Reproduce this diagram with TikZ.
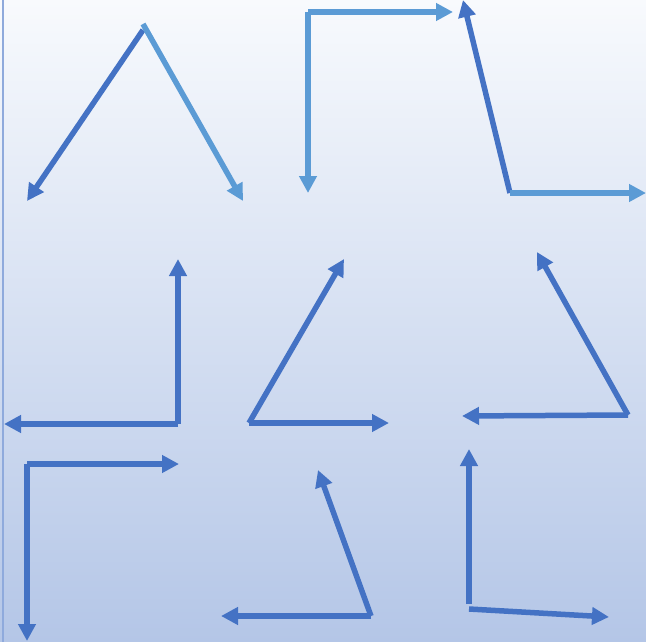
\documentclass[tikz,border=0pt]{standalone}
\usetikzlibrary{arrows.meta}
\definecolor{darkb}{HTML}{4472C4}
\definecolor{lightb}{HTML}{5B9BD5}
\definecolor{bgtop}{HTML}{F8FAFD}
\definecolor{bgbot}{HTML}{B4C6E7}
\definecolor{edgeb}{HTML}{8FAADC}
\tikzset{
  vec/.style={line width=5.5pt, -{Triangle[length=17pt,width=17pt]}},
  vdark/.style={vec, draw=darkb, fill=darkb},
  vlight/.style={vec, draw=lightb, fill=lightb},
}
\begin{document}
\begin{tikzpicture}[x=1pt,y=-1pt]
\useasboundingbox (0,0) rectangle (646,642);
\shade[top color=bgtop, bottom color=bgbot] (0,0) rectangle (646,642);
\draw[edgeb, line width=2.5pt] (3,0) -- (3,642);
% group 1
\coordinate (v1) at (143,30);
\coordinate (v1b) at (143,24);
\coordinate (t1a) at (27,201);
\coordinate (t1b) at (243,201);
\draw[vdark] (v1) -- (t1a);
\draw[vlight] (v1b) -- (t1b);
% group 2
\coordinate (v2) at (308,12);
\coordinate (t2a) at (453,12);
\coordinate (t2b) at (308,193);
\draw[vlight] (v2) -- (t2a);
\draw[vlight] (v2) -- (t2b);
% group 3
\coordinate (v3) at (510,193);
\coordinate (t3a) at (463,0);
\coordinate (t3b) at (646,193);
\draw[vdark] (v3) -- (t3a);
\draw[vlight] (v3) -- (t3b);
% group 4
\coordinate (v4) at (178,424);
\coordinate (t4a) at (178,259);
\coordinate (t4b) at (4,424);
\draw[vdark] (v4) -- (t4a);
\draw[vdark] (v4) -- (t4b);
% group 5
\coordinate (v5) at (249,423);
\coordinate (t5a) at (344,259);
\coordinate (t5b) at (389,423);
\draw[vdark] (v5) -- (t5a);
\draw[vdark] (v5) -- (t5b);
% group 6
\coordinate (v6) at (628,415);
\coordinate (t6a) at (537,252);
\coordinate (t6b) at (462,416);
\draw[vdark] (v6) -- (t6a);
\draw[vdark] (v6) -- (t6b);
% group 7
\coordinate (v7) at (27,464);
\coordinate (t7a) at (179,464);
\coordinate (t7b) at (27,641);
\draw[vdark] (v7) -- (t7a);
\draw[vdark] (v7) -- (t7b);
% group 8
\coordinate (v8) at (371,616);
\coordinate (t8a) at (318,470);
\coordinate (t8b) at (221,616);
\draw[vdark] (v8) -- (t8a);
\draw[vdark] (v8) -- (t8b);
% group 9
\coordinate (v9) at (469,604);
\coordinate (v9b) at (469,609);
\coordinate (t9a) at (469,449);
\coordinate (t9b) at (609,617);
\draw[vdark] (v9) -- (t9a);
\draw[vdark] (v9b) -- (t9b);
\end{tikzpicture}
\end{document}
